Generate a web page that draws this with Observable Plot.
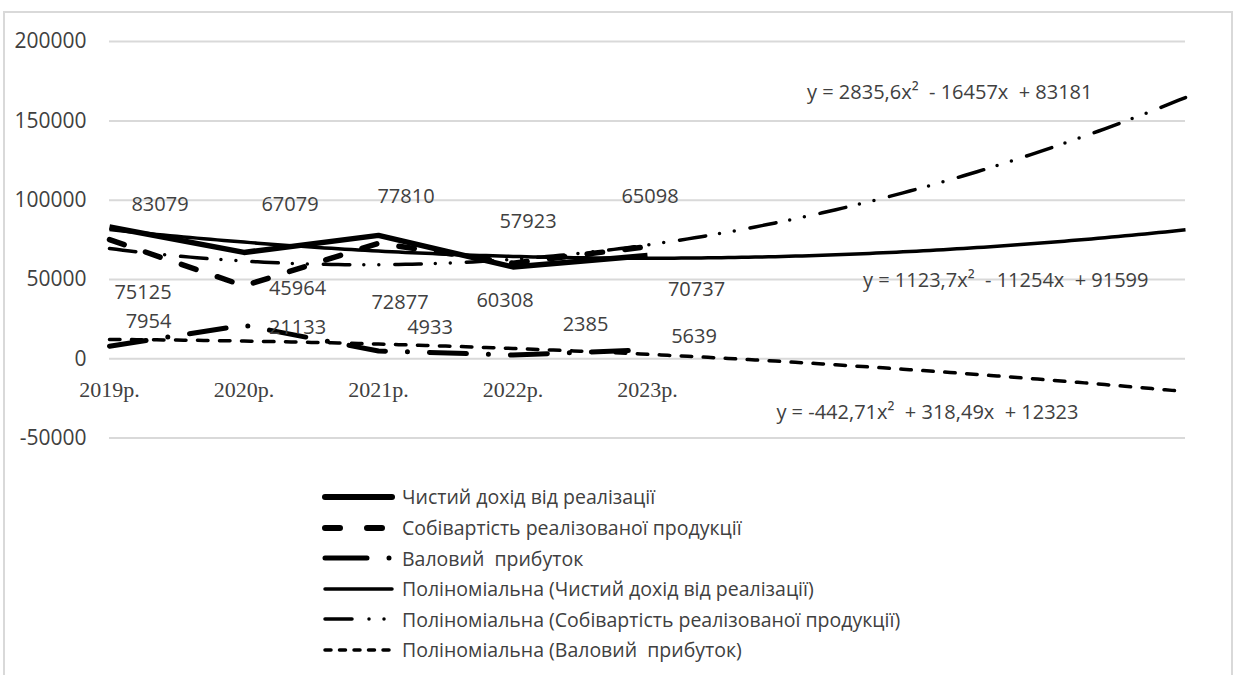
<!DOCTYPE html>
<html>
<head>
<meta charset="utf-8">
<script src="https://cdn.jsdelivr.net/npm/d3@7"></script>
<script src="https://cdn.jsdelivr.net/npm/@observablehq/plot@0.6"></script>
<style>
  html, body { margin: 0; padding: 0; background: #fff; }
  #chart { position: absolute; left: 0; top: 0; }
  #frame { position: absolute; left: 3px; top: 11px; width: 1230px; height: 700px;
           border: 2px solid #d9d9d9; border-bottom: none; box-sizing: border-box; pointer-events: none; }
  #legend { position: absolute; left: 320px; top: 481.7px; font-family: "Open Sans", sans-serif;
            font-size: 19.5px; color: #404040; }
  .row { display: flex; align-items: center; height: 30.6px; white-space: pre; }
  .row svg { width: 76px; height: 12px; margin-right: 6px; flex: none; }
</style>
</head>
<body>
<div id="chart"></div>
<div id="legend"></div>
<div id="frame"></div>
<script>
// Periods and reported values, thousand UAH
const years = ["2019р.", "2020р.", "2021р.", "2022р.", "2023р."];
const revenue = [83079, 67079, 77810, 57923, 65098];
const cost = [75125, 45964, 72877, 60308, 70737];
const grossProfit = [7954, 21133, 4933, 2385, 5639];

// Value axis ticks
const yTicks = [-50000, 0, 50000, 100000, 150000, 200000];

// Quadratic trend coefficients [a, b, c] of y = a·x² + b·x + c, x = period number
const revenueTrend = [1123.7, -11254, 91599];
const costTrend = [2835.6, -16457, 83181];
const grossTrend = [-442.71, 318.49, 12323];
const forecastPeriods = 4;

const seriesNames = [
  "Чистий дохід від реалізації",
  "Собівартість реалізованої продукції",
  "Валовий  прибуток"
];
const trendNames = seriesNames.map(n => `Поліноміальна (${n})`);
const trendEquations = [
  "y = 1123,7x²  - 11254x  + 91599",
  "y = 2835,6x²  - 16457x  + 83181",
  "y = -442,71x²  + 318,49x  + 12323"
];

// Line styles: main series are heavy, trend lines lighter
const styles = {
  revenue:  {strokeWidth: 5.5, dash: null},
  cost:     {strokeWidth: 5.5, dash: "15.5,22.5"},
  gross:    {strokeWidth: 5,   dash: "37,22,0,22"},
  revenueT: {strokeWidth: 3.5, dash: null},
  costT:    {strokeWidth: 3.5, dash: "26.5,14,0,15,0,16"},
  grossT:   {strokeWidth: 3.5, dash: "10.5,11.5"}
};

// Pixel nudges for data labels relative to their points
const revenueNudge = [[50.5, -22.5], [46, -47.9], [27.5, -39], [15, -45.4], [2.5, -59.1]];
const costNudge = [[33.5, 52.6], [53.5, 2.6], [21.5, 59.3], [-8, 37.3], [49, 42.9]];
const grossNudge = [[39, -24.7], [53.5, 2.2], [51.5, -23.5], [72.5, -30.5], [46.5, -13.7]];
// Nudges for the equation labels relative to the trend end point (text anchored at its end)
const equationNudge = [[-37, 50.5], [-93, -4.7], [-107, 21]];

const labelFont = "Open Sans";
const textColor = "#404040";

const poly = c => x => c[0] * x * x + c[1] * x + c[2];
const lastX = years.length + forecastPeriods;
const trendXs = d3.range(1, lastX + 1e-9, 0.05);
const trendData = (c) => trendXs.map(x => ({x, y: poly(c)(x)}));

const points = years.map((yr, i) => ({x: i + 1, yr}));
const series = (vals) => vals.map((v, i) => ({x: i + 1, y: v}));

function lineMark(data, st) {
  return Plot.line(data, {
    x: "x", y: "y", stroke: "black", strokeWidth: st.strokeWidth,
    strokeDasharray: st.dash ?? undefined, strokeLinecap: st.dash ? "round" : "butt",
    strokeLinejoin: "round", curve: "linear"
  });
}

function valueLabels(vals, nudge) {
  return vals.map((v, i) => Plot.text([{x: i + 1, y: v}], {
    x: "x", y: "y", text: () => String(v), dx: nudge[i][0], dy: nudge[i][1],
    fontSize: 20, fontFamily: labelFont, fill: textColor, textAnchor: "middle", lineAnchor: "middle"
  }));
}

const trends = [revenueTrend, costTrend, grossTrend];
const equationMarks = trends.map((c, k) => Plot.text([{x: lastX, y: poly(c)(lastX)}], {
  x: "x", y: "y", text: () => trendEquations[k], dx: equationNudge[k][0], dy: equationNudge[k][1],
  textAnchor: "end", lineAnchor: "middle", fontSize: 20, fontFamily: labelFont, fill: textColor
}));

const chart = Plot.plot({
  width: 1233,
  height: 470,
  marginLeft: 109,
  marginRight: 48,
  marginTop: 41.1,
  marginBottom: 32.4,
  style: {background: "transparent", fontFamily: labelFont},
  x: {type: "linear", domain: [1, lastX], axis: null},
  y: {domain: [-50000, 200000], axis: null},
  marks: [
    Plot.ruleY(yTicks, {stroke: "#d9d9d9", strokeWidth: 2}),
    Plot.axisY(yTicks, {
      label: null, tickSize: 0, tickPadding: 23, fontSize: 21, color: textColor,
      tickFormat: d => String(d), fontFamily: labelFont
    }),
    Plot.text(points, {
      x: "x", y: () => 0, text: "yr", dy: 31, fontSize: 22,
      fontFamily: "Liberation Serif", fill: textColor, textAnchor: "middle", lineAnchor: "middle"
    }),
    lineMark(series(revenue), styles.revenue),
    lineMark(series(cost), styles.cost),
    lineMark(series(grossProfit), styles.gross),
    lineMark(trendData(revenueTrend), styles.revenueT),
    lineMark(trendData(costTrend), styles.costT),
    lineMark(trendData(grossTrend), styles.grossT),
    ...valueLabels(revenue, revenueNudge),
    ...valueLabels(cost, costNudge),
    ...valueLabels(grossProfit, grossNudge),
    ...equationMarks
  ]
});
document.getElementById("chart").appendChild(chart);

// Legend rows
const legendEntries = [
  {name: seriesNames[0], dash: null, w: 6},
  {name: seriesNames[1], dash: "15,27", w: 6},
  {name: seriesNames[2], dash: "42,22,0,30", w: 5},
  {name: trendNames[0], dash: null, w: 3.5},
  {name: trendNames[1], dash: "27,17,0,15,0,20", w: 3.5},
  {name: trendNames[2], dash: "6,8.5", w: 3.5}
];
const legend = d3.select("#legend");
legendEntries.forEach(e => {
  const row = legend.append("div").attr("class", "row");
  const svg = row.append("svg").attr("viewBox", "0 0 76 12");
  svg.append("line")
    .attr("x1", 5).attr("x2", 72).attr("y1", 6).attr("y2", 6)
    .attr("stroke", "black").attr("stroke-width", e.w)
    .attr("stroke-linecap", "round")
    .attr("stroke-dasharray", e.dash);
  row.append("span").text(e.name);
});
</script>
</body>
</html>
